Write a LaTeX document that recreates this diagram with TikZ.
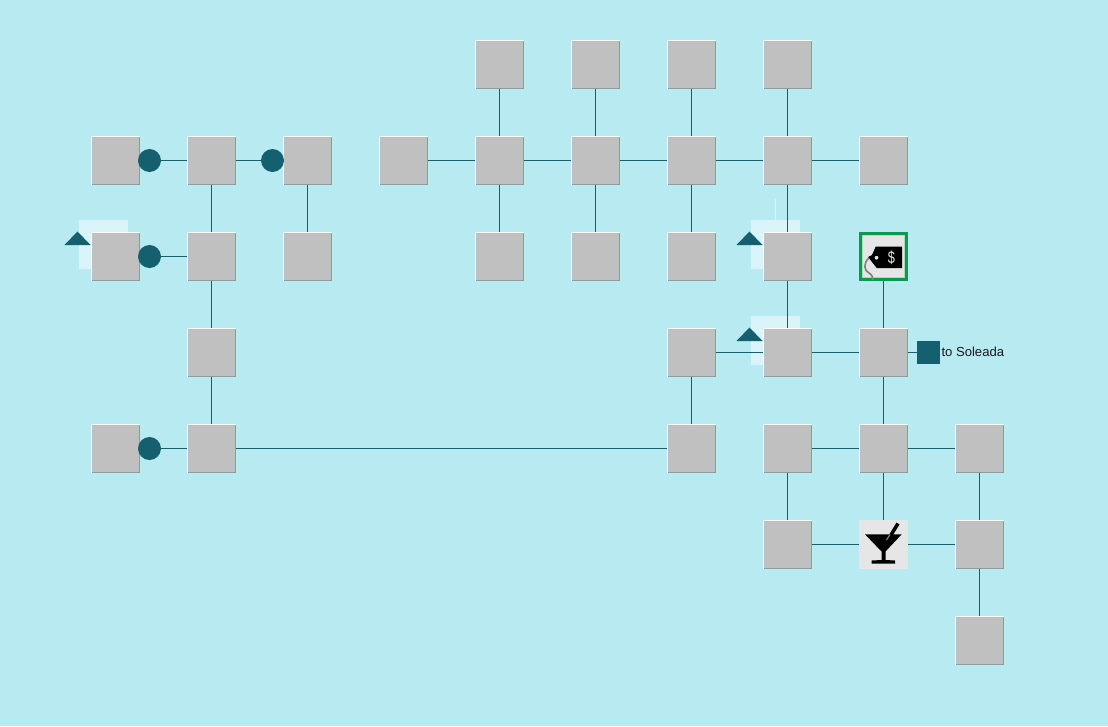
\documentclass[tikz,border=0pt]{standalone}
\usepackage{fontspec}
\setmainfont{Liberation Sans}
\definecolor{bgc}{HTML}{B7EAF1}
\definecolor{tealc}{HTML}{14606E}
\definecolor{palec}{HTML}{DBF4F9}
\definecolor{grayc}{HTML}{C0C0C0}
\definecolor{edgec}{HTML}{8E9A9E}
\definecolor{iconc}{HTML}{E6E6E6}
\definecolor{greenc}{HTML}{0C9A50}
\definecolor{ringc}{HTML}{A8DDB8}
\tikzset{
  sq/.style={fill=grayc,minimum size=49pt,inner sep=0pt,outer sep=0pt,
    path picture={
      \draw[edgec,line width=1pt] ([yshift=.5pt]path picture bounding box.south west)--([yshift=.5pt]path picture bounding box.south east);
      \draw[edgec,line width=1pt] ([xshift=-.5pt]path picture bounding box.south east)--([xshift=-.5pt]path picture bounding box.north east);
      \draw[white,line width=1pt] ([yshift=-.5pt]path picture bounding box.north west)--([yshift=-.5pt]path picture bounding box.north east);
      \draw[white,line width=1pt] ([xshift=.5pt]path picture bounding box.south west)--([xshift=.5pt]path picture bounding box.north west);
    }},
  iconbox/.style={fill=iconc,minimum size=49pt,inner sep=0pt,outer sep=0pt},
  link/.style={draw=tealc,line width=1pt},
  dot/.style={circle,fill=tealc,minimum size=23pt,inner sep=0pt,outer sep=0pt},
  glow/.style={fill=palec,minimum size=49pt,inner sep=0pt,outer sep=0pt},
  portbox/.style={fill=tealc,minimum size=23pt,inner sep=0pt,outer sep=0pt},
  lbl/.style={inner sep=0pt,outer sep=0pt,font=\fontsize{13.1}{15}\selectfont,text=black!90,anchor=west},
  tri/.style={fill=tealc}
}
\begin{document}
\begin{tikzpicture}[x=1pt,y=-1pt]
\fill[bgc] (0,0) rectangle (1108,726);
\useasboundingbox (0,0) rectangle (1108,726);
% highlights
\node[glow] (g1) at (103.5,244.5) {};
\node[glow] (g2) at (775.5,244.5) {};
\node[glow] (g3) at (775.5,340.5) {};
\draw[palec,line width=1pt] (g2.north) ++(0,-21) -- (g2.north);
% squares
\foreach \c/\r in {499/64,595/64,691/64,787/64,
  115/160,211/160,307/160,403/160,499/160,595/160,691/160,787/160,883/160,
  115/256,211/256,307/256,499/256,595/256,691/256,787/256,
  211/352,691/352,787/352,883/352,
  115/448,211/448,691/448,787/448,883/448,979/448,
  787/544,979/544,979/640}
  \node[sq] (n\c-\r) at (\c.5,\r.5) {};
\node[iconbox] (tag) at (883.5,256.5) {};
\node[iconbox] (bar) at (883.5,544.5) {};
\node[portbox] (port) at (928.5,352.5) {};
% connectors
\foreach \a/\b in {499-64/499-160,595-64/595-160,691-64/691-160,787-64/787-160,
  499-160/499-256,595-160/595-256,691-160/691-256,787-160/787-256,787-256/787-352,
  403-160/499-160,499-160/595-160,595-160/691-160,691-160/787-160,787-160/883-160,
  115-160/211-160,211-160/307-160,211-160/211-256,307-160/307-256,
  115-256/211-256,211-256/211-352,211-352/211-448,
  115-448/211-448,211-448/691-448,691-448/691-352,691-352/787-352,787-352/883-352,
  883-352/883-448,787-448/883-448,883-448/979-448,787-448/787-544,
  979-448/979-544,979-544/979-640}
  \draw[link] (n\a) -- (n\b);
\draw[link] (tag) -- (n883-352);
\draw[link] (n883-352) -- (port);
\draw[link] (n883-448) -- (bar);
\draw[link] (n787-544) -- (bar);
\draw[link] (bar) -- (n979-544);
% dots
\node[dot] (d1) at (149.5,160.5) {};
\node[dot] (d2) at (272.5,160.5) {};
\node[dot] (d3) at (149.5,256.5) {};
\node[dot] (d4) at (149.5,448.5) {};
% triangles
\fill[tri] (77.5,231.5) -- (90.5,245) -- (64.5,245) -- cycle;
\fill[tri] (749.5,231.5) -- (762.5,245) -- (736.5,245) -- cycle;
\fill[tri] (749.5,327.5) -- (762.5,341) -- (736.5,341) -- cycle;
% label
\node[lbl] (soleada) at (941.5,351.5) {to Soleada};
% tag icon
\draw[ringc,line width=1.5pt] (862.5,235.5) rectangle (904.5,277.5);
\draw[greenc,line width=3pt] (860.5,233.5) rectangle (906.5,279.5);
\fill[black,even odd rule] (868,257) -- (872,255) -- (875.7,246.7) -- (902,246.7) -- (902,268) -- (876.7,268) -- (872,262) -- cycle
  (876.5,257.7) circle (2);
\draw[gray,line width=1.6pt] (869,258) .. controls (863,263) and (864,271) .. (869,273) .. controls (872,275) and (873,277) .. (873,280);
\node[inner sep=0pt,text=iconc,font=\fontsize{17}{17}\selectfont,xscale=.75] (dollar) at (891.5,258) {\$};
% martini icon
\fill[black] (865,534.3) -- (901.7,534.3) -- (885.5,551.5) -- (885.5,560) -- (895,560.5) -- (895,563.7) -- (871.7,563.7) -- (871.7,560.5) -- (881.5,560) -- (881.5,551.5) -- cycle;
\draw[black,line width=3.5pt] (898,523.5) -- (888.5,539);
\draw[gray,line width=1.2pt] (890,534.5) -- (886.5,540);
\end{tikzpicture}
\end{document}
